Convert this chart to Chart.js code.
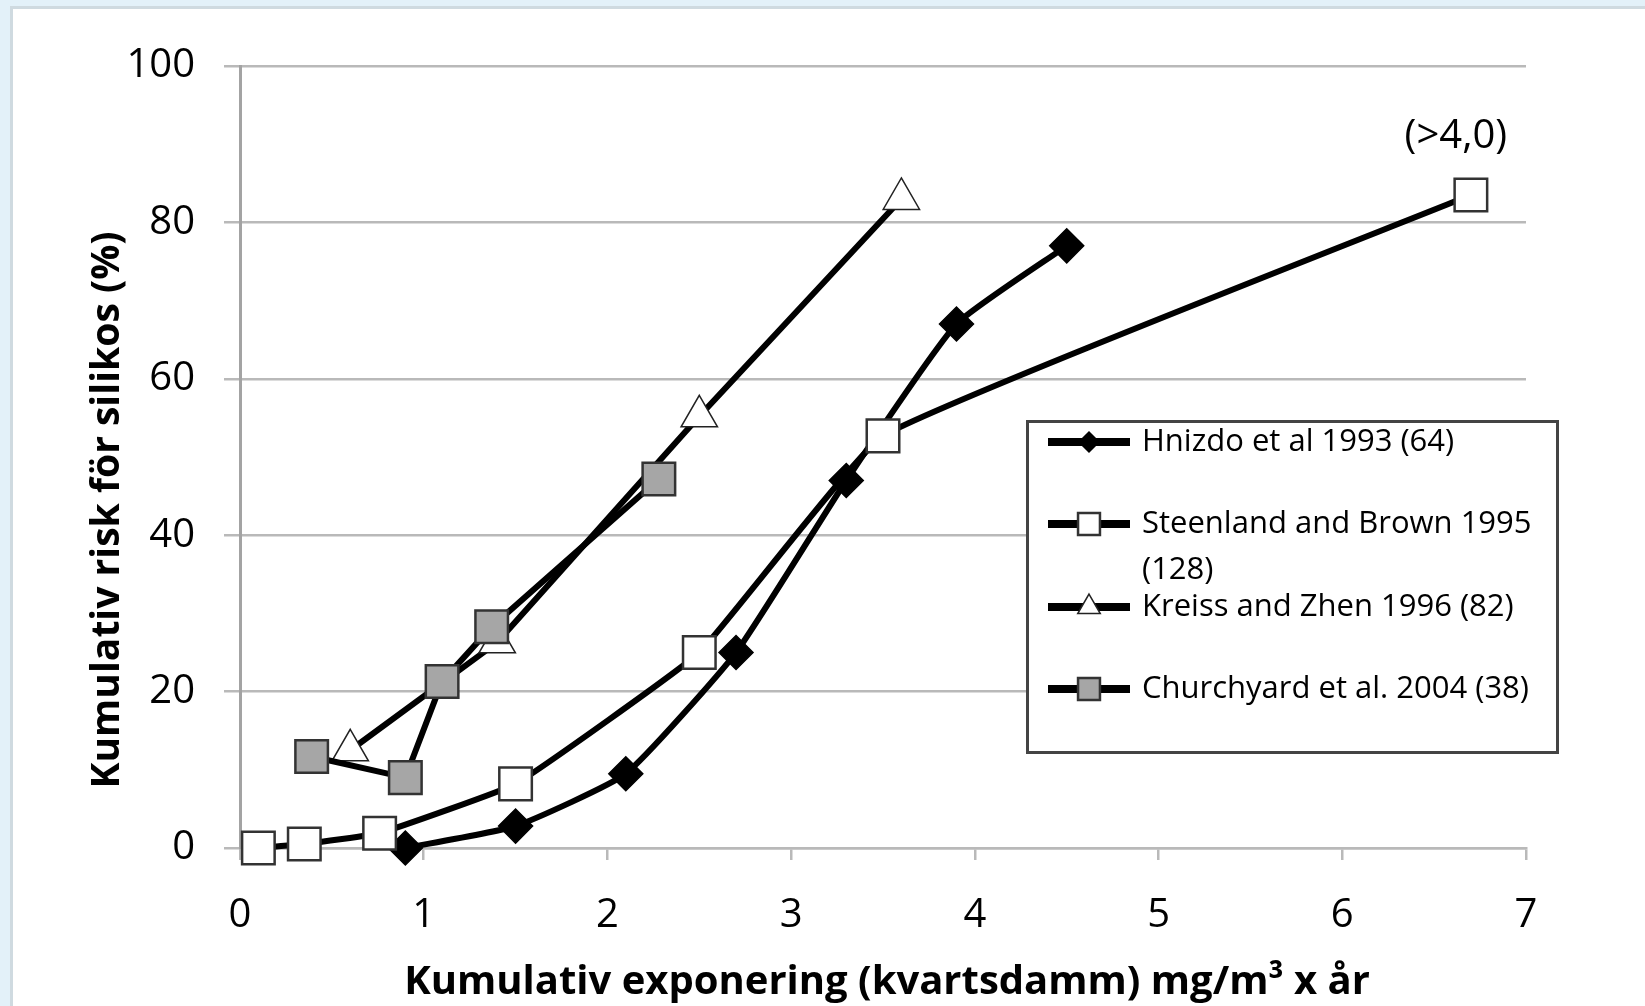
<!DOCTYPE html>
<html>
<head>
<meta charset="utf-8">
<script src="https://cdn.jsdelivr.net/npm/chart.js@4/dist/chart.umd.min.js"></script>
<style>
    html, body { margin: 0; padding: 0; background: #e3f1f9; overflow: hidden; }
    .frame {
        position: absolute; left: 10px; top: 6px; width: 1700px; height: 1100px;
        background: #fff; border-left: 3px solid #cfdae0; border-top: 3px solid #cfdae0;
    }
    #chart { position: absolute; left: 0; top: 0; }
</style>
</head>
<body>
<div class="frame"></div>
<canvas id="chart" width="1645" height="1006"></canvas>
<script>
// --- DATA ---
const seriesNames = [
    ['Hnizdo et al 1993 (64)'],
    ['Steenland and Brown 1995', '(128)'],
    ['Kreiss and Zhen 1996 (82)'],
    ['Churchyard et al. 2004 (38)']
];
const hnizdoX = [0.9, 1.5, 2.1, 2.7, 3.3, 3.9, 4.5];
const hnizdoY = [0, 2.8, 9.5, 25, 47, 67, 77];
const steenlandX = [0.1, 0.35, 0.76, 1.5, 2.5, 3.5, 6.7];
const steenlandY = [0, 0.5, 1.9, 8.2, 25, 52.7, 83.5];
const kreissX = [0.6, 1.4, 2.5, 3.6];
const kreissY = [12.5, 26.3, 55.2, 83];
const churchyardX = [0.39, 0.9, 1.1, 1.37, 2.28];
const churchyardY = [11.7, 9, 21.3, 28.3, 47.2];
const xTicks = [0, 1, 2, 3, 4, 5, 6, 7];
const yTicks = [0, 20, 40, 60, 80, 100];
const noteText = '(>4,0)';
const xTitle = 'Kumulativ exponering (kvartsdamm) mg/m³ x år';
const yTitle = 'Kumulativ risk för silikos (%)';

const pts = (xs, ys) => xs.map((x, i) => ({ x: x, y: ys[i] }));

const FONT = '"Open Sans", "Liberation Sans", sans-serif';
const GRID = '#b9b9b9';

// marker looks, shared by plot and legend
const looks = [
    { style: 'rectRot', fill: '#000', border: '#000', bw: 1.5, r: 17, lr: 10 },
    { style: 'rect', fill: '#fff', border: '#333', bw: 2.5, r: 23, lr: 15.5 },
    { style: 'triangle', fill: '#fff', border: '#222', bw: 1.5, r: 21, lr: 13 },
    { style: 'rect', fill: '#a6a6a6', border: '#333', bw: 2.5, r: 23, lr: 15.5 }
];

const makeSet = (i, data, tension, order) => ({
    label: seriesNames[i].join(' '),
    data: data,
    borderColor: '#000',
    borderWidth: 6,
    tension: tension,
    pointStyle: looks[i].style,
    pointRadius: looks[i].r,
    pointHoverRadius: looks[i].r,
    pointBackgroundColor: looks[i].fill,
    pointBorderColor: looks[i].border,
    pointBorderWidth: looks[i].bw,
    clip: false,
    order: order
});

// --- custom drawing: legend box, axis titles, note ---
const extras = {
    id: 'extras',
    afterDraw(chart) {
        const ctx = chart.ctx;
        ctx.save();

        // legend box
        ctx.fillStyle = '#fff';
        ctx.fillRect(1027, 421, 530, 331);
        ctx.lineWidth = 3;
        ctx.strokeStyle = '#444';
        ctx.strokeRect(1027.5, 421.5, 530, 331);

        const rows = [442, 524, 607, 689];
        rows.forEach((y, i) => {
            ctx.lineWidth = 8;
            ctx.strokeStyle = '#000';
            ctx.beginPath();
            ctx.moveTo(1048, y);
            ctx.lineTo(1130, y);
            ctx.stroke();

            const lk = looks[i];
            ctx.fillStyle = lk.fill;
            ctx.strokeStyle = lk.border;
            ctx.lineWidth = lk.bw;
            Chart.helpers.drawPoint(ctx, { pointStyle: lk.style, radius: lk.lr, borderWidth: lk.bw, rotation: 0 }, 1089, y);

            ctx.fillStyle = '#000';
            ctx.font = '31px ' + FONT;
            ctx.textAlign = 'left';
            ctx.textBaseline = 'middle';
            seriesNames[i].forEach((t, k) => ctx.fillText(t, 1142, y + k * 46));
        });

        // note above the last Steenland point
        const xs = chart.scales.x, ys = chart.scales.y;
        const last = steenlandX.length - 1;
        ctx.font = '40px ' + FONT;
        ctx.textAlign = 'center';
        ctx.fillText(noteText, xs.getPixelForValue(steenlandX[last]) - 15, ys.getPixelForValue(steenlandY[last]) - 58);

        // axis titles
        ctx.font = 'bold 40px ' + FONT;
        ctx.fillText(xTitle, 887, 983);
        ctx.translate(108, 510);
        ctx.rotate(-Math.PI / 2);
        ctx.font = 'bold 39px ' + FONT;
        ctx.fillText(yTitle, 0, 0);

        ctx.restore();
    }
};

new Chart(document.getElementById('chart'), {
    type: 'line',
    data: {
        datasets: [
            makeSet(0, pts(hnizdoX, hnizdoY), 0.15, 4),
            makeSet(1, pts(steenlandX, steenlandY), 0.1, 3),
            makeSet(2, pts(kreissX, kreissY), 0, 2),
            makeSet(3, pts(churchyardX, churchyardY), 0, 1)
        ]
    },
    options: {
        responsive: false,
        animation: false,
        devicePixelRatio: 1,
        layout: { padding: { left: 0, top: 66, right: 119, bottom: 0 } },
        plugins: {
            legend: { display: false },
            tooltip: { enabled: false }
        },
        scales: {
            x: {
                type: 'linear',
                min: 0, max: 7,
                afterBuildTicks: s => { s.ticks = xTicks.map(v => ({ value: v })); },
                afterFit: s => { s.height = 158; },
                ticks: { color: '#000', font: { family: FONT, size: 40 }, padding: 32 },
                grid: { drawOnChartArea: false, tickLength: 12, color: GRID, lineWidth: 2.5 },
                border: { color: GRID, width: 2.5 }
            },
            y: {
                min: 0, max: 100,
                afterBuildTicks: s => { s.ticks = yTicks.map(v => ({ value: v })); },
                afterFit: s => { s.width = 240; },
                ticks: { color: '#000', font: { family: FONT, size: 40 }, padding: 29 },
                grid: { color: GRID, lineWidth: 2.5, tickLength: 16, tickColor: GRID },
                border: { color: '#a3a3a3', width: 3 }
            }
        }
    },
    plugins: [extras]
});
</script>
</body>
</html>
